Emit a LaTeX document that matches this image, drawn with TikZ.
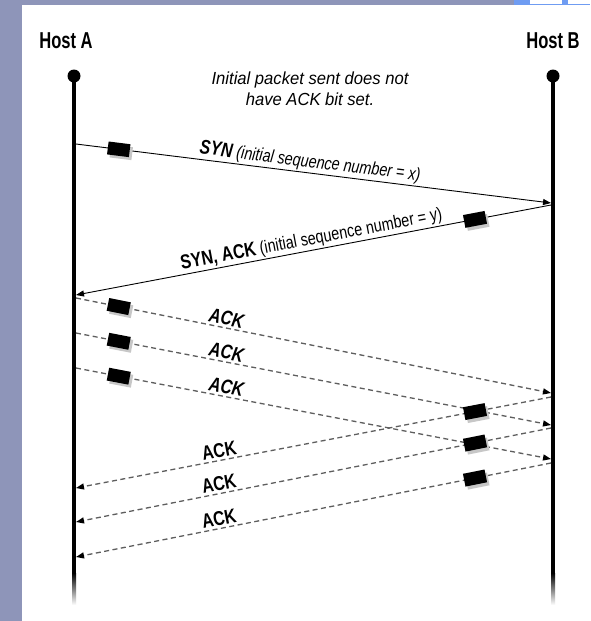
\documentclass[tikz,border=0pt]{standalone}
\usepackage{fontspec}
\setmainfont{Liberation Sans}
\newfontfamily\notesans[FakeStretch=0.95]{Liberation Sans}
\newfontfamily\narrowsans[FakeStretch=0.8]{Liberation Sans}
\newfontfamily\condsans[FakeStretch=0.72]{Liberation Sans}
\usetikzlibrary{arrows.meta,shadows}
\definecolor{framecol}{HTML}{8E95B9}
\definecolor{tabcol}{HTML}{6F9CF2}
\definecolor{dashcol}{HTML}{5E5E5E}

\begin{document}
\begin{tikzpicture}[x=1pt,y=-1pt,
  hostlabel/.style={font=\condsans\bfseries\fontsize{23}{26}\selectfont, inner sep=0pt},
  notetext/.style={font=\notesans\itshape\fontsize{17.5}{21}\selectfont, align=center, inner sep=0pt},
  lifeline/.style={line width=4pt},
  enddot/.style={circle, fill=black, minimum size=13pt, inner sep=0pt},
  packet/.style={fill=black, minimum width=22pt, minimum height=13pt, inner sep=0pt,
    drop shadow={shadow xshift=2.5pt, shadow yshift=-3pt, fill=black!22, opacity=1}},
  msg/.style={line width=0.9pt, -{Triangle[length=8pt,width=6pt,color=black]}},
  ackmsg/.style={msg, draw=dashcol, line width=1.3pt, dash pattern=on 5pt off 3.5pt},
  msglabel/.style={sloped, above, inner sep=1.5pt, font=\narrowsans\fontsize{18}{20}\selectfont},
  acklabel/.style={sloped, above, inner sep=2pt, font=\narrowsans\bfseries\fontsize{20}{22}\selectfont},
  ackitlabel/.style={acklabel, font=\narrowsans\bfseries\itshape\fontsize{20}{22}\selectfont}
]
\useasboundingbox (0,0) rectangle (590,621);

% page frame
\fill[framecol] (0,0) rectangle (590,5);
\fill[framecol] (0,0) rectangle (22,621);
\fill[white] (22,5) rectangle (590,621);
\fill[tabcol] (514,0) rectangle (590,5);
\fill[white] (530,0) rectangle (562,3.5);
\fill[white] (568,0) rectangle (590,3.5);

% hosts
\node[hostlabel] (hostA) at (66,41) {Host A};
\node[hostlabel] (hostB) at (553,41) {Host B};

\node[enddot] (topA) at (74,76) {};
\node[enddot] (topB) at (553,76) {};
\coordinate (botA) at (74,573);
\coordinate (botB) at (553,573);

\draw[lifeline] (topA.center) -- (botA);
\draw[lifeline] (topB.center) -- (botB);
\shade[top color=black, bottom color=white] (72,573) rectangle (76,605);
\shade[top color=black, bottom color=white] (551,573) rectangle (555,605);

\node[notetext] (note) at (310,89) {Initial packet sent does not\\have ACK bit set.};

% message end points on the lifelines
\coordinate (synA) at (76,144);     \coordinate (synB) at (551,203);
\coordinate (saB) at (551,205);     \coordinate (saA) at (76,295);
\coordinate (a1s) at (76,298);      \coordinate (a1e) at (551,393);
\coordinate (a2s) at (76,333);      \coordinate (a2e) at (551,425);
\coordinate (a3s) at (76,368);      \coordinate (a3e) at (551,459);
\coordinate (b1s) at (551,397);     \coordinate (b1e) at (76,488);
\coordinate (b2s) at (551,428);     \coordinate (b2e) at (76,522);
\coordinate (b3s) at (551,463);     \coordinate (b3e) at (76,557);

% three-way handshake
\draw[msg] (synA) --
  node[pos=0.09, sloped, packet] (pkSyn) {}
  node[pos=0.49, msglabel] (lbSyn) {\itshape{\bfseries\fontsize{20}{22}\selectfont SYN} (initial sequence number = x)}
  (synB);
\draw[msg] (saB) --
  node[pos=0.16, sloped, packet] (pkSa) {}
  node[pos=0.5, msglabel] (lbSa) {{\bfseries\fontsize{20}{22}\selectfont SYN, ACK} (initial sequence number = y)}
  (saA);

% acknowledgements from host A
\draw[ackmsg] (a1s) --
  node[pos=0.09, sloped, packet] (pkA1) {}
  node[pos=0.313, ackitlabel] (lbA1) {ACK}
  (a1e);
\draw[ackmsg] (a2s) --
  node[pos=0.09, sloped, packet] (pkA2) {}
  node[pos=0.313, ackitlabel] (lbA2) {ACK}
  (a2e);
\draw[ackmsg] (a3s) --
  node[pos=0.09, sloped, packet] (pkA3) {}
  node[pos=0.313, ackitlabel] (lbA3) {ACK}
  (a3e);

% acknowledgements from host B
\draw[ackmsg] (b1s) --
  node[pos=0.16, sloped, packet] (pkB1) {}
  node[pos=0.695, acklabel] (lbB1) {ACK}
  (b1e);
\draw[ackmsg] (b2s) --
  node[pos=0.16, sloped, packet] (pkB2) {}
  node[pos=0.695, acklabel] (lbB2) {ACK}
  (b2e);
\draw[ackmsg] (b3s) --
  node[pos=0.16, sloped, packet] (pkB3) {}
  node[pos=0.695, acklabel] (lbB3) {ACK}
  (b3e);
\end{tikzpicture}
\end{document}
